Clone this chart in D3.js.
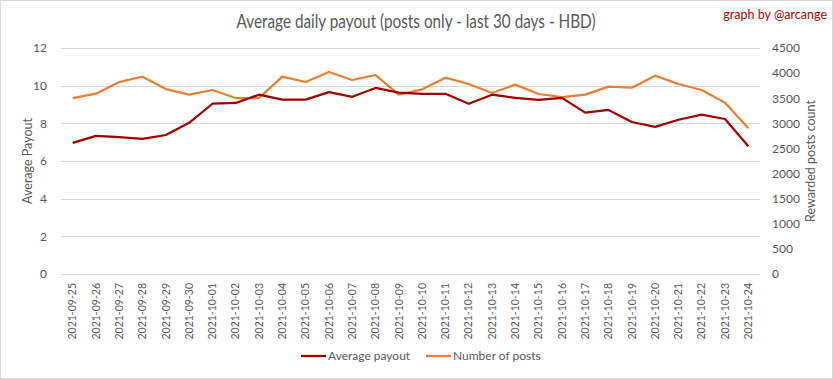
<!DOCTYPE html>
<html><head><meta charset="utf-8">
<script src="https://cdn.jsdelivr.net/npm/d3@7"></script>
<style>
body{margin:0;background:#fff;}
svg{display:block;font-family:Lato,"Liberation Sans",Arial,sans-serif;}
</style></head><body>
<svg id="c" width="833" height="379"></svg>
<script>
const dates = ["2021-09-25","2021-09-26","2021-09-27","2021-09-28","2021-09-29","2021-09-30","2021-10-01","2021-10-02","2021-10-03","2021-10-04","2021-10-05","2021-10-06","2021-10-07","2021-10-08","2021-10-09","2021-10-10","2021-10-11","2021-10-12","2021-10-13","2021-10-14","2021-10-15","2021-10-16","2021-10-17","2021-10-18","2021-10-19","2021-10-20","2021-10-21","2021-10-22","2021-10-23","2021-10-24"];
const avgPayout = [6.96,7.33,7.27,7.17,7.38,8.03,9.04,9.08,9.52,9.26,9.26,9.66,9.41,9.88,9.63,9.57,9.57,9.04,9.52,9.35,9.24,9.35,8.57,8.71,8.07,7.81,8.19,8.46,8.23,6.78];
const numPosts = [3504,3590,3823,3929,3683,3571,3664,3504,3504,3929,3823,4022,3863,3962,3571,3677,3910,3783,3604,3770,3584,3524,3571,3730,3710,3949,3783,3664,3411,2900];
const leftTicks = [0,2,4,6,8,10,12];
const rightTicks = [0,500,1000,1500,2000,2500,3000,3500,4000,4500];

const svg = d3.select("#c");
const W = 833, H = 379;
const m = {left:61, right:73, top:48, bottom:105};
const x0 = m.left, x1 = W - m.right, y0 = H - m.bottom, y1 = m.top;

svg.append("rect").attr("x",0.5).attr("y",0.5).attr("width",W-1).attr("height",H-1)
  .attr("fill","#fff").attr("stroke","#d9d9d9");

const x = d3.scaleBand().domain(dates).range([x0,x1]);
const yL = d3.scaleLinear().domain([0,12]).range([y0,y1]);
const yR = d3.scaleLinear().domain([0,4500]).range([y0,y1]);
const txt = "#595959";

// gridlines
svg.append("g").selectAll("line").data(leftTicks).join("line")
  .attr("x1",x0).attr("x2",x1).attr("y1",d=>Math.round(yL(d))+0.5).attr("y2",d=>Math.round(yL(d))+0.5)
  .attr("stroke","#d9d9d9").attr("stroke-width",1);

// left axis
const gl = svg.append("g").attr("transform",`translate(${x0},0)`)
  .call(d3.axisLeft(yL).tickValues(leftTicks).tickSize(0).tickPadding(14));
gl.select(".domain").remove();
gl.selectAll("text").attr("fill",txt).attr("font-size",12).attr("font-family","Lato");

// right axis
const gr = svg.append("g").attr("transform",`translate(${x1},0)`)
  .call(d3.axisRight(yR).tickValues(rightTicks).tickFormat(d3.format("d")).tickSize(0).tickPadding(12));
gr.select(".domain").remove();
gr.selectAll("text").attr("fill",txt).attr("font-size",12).attr("font-family","Lato");

// x axis
const gx = svg.append("g").attr("transform",`translate(0,${y0})`)
  .call(d3.axisBottom(x).tickSize(0).tickPadding(0));
gx.select(".domain").remove();
gx.selectAll("text").attr("fill",txt).attr("font-size",10.5).attr("font-family","Lato")
  .attr("transform","rotate(-90)").attr("text-anchor","end")
  .attr("x",-9).attr("y",0).attr("dy","0.35em");

// lines
const lineL = d3.line().x((d,i)=>x(dates[i])+x.bandwidth()/2).y(d=>yL(d));
const lineR = d3.line().x((d,i)=>x(dates[i])+x.bandwidth()/2).y(d=>yR(d));
svg.append("path").datum(numPosts).attr("d",lineR).attr("fill","none")
  .attr("stroke","#ed7d31").attr("stroke-width",2.25).attr("stroke-linejoin","round");
svg.append("path").datum(avgPayout).attr("d",lineL).attr("fill","none")
  .attr("stroke","#a00000").attr("stroke-width",2.25).attr("stroke-linejoin","round");

// title
svg.append("text").attr("x",416).attr("y",28).attr("text-anchor","middle")
  .attr("fill",txt).attr("font-size",19)
  .attr("textLength",359).attr("lengthAdjust","spacingAndGlyphs")
  .text("Average daily payout (posts only - last 30 days - HBD)");
svg.append("text").attr("x",827).attr("y",19).attr("text-anchor","end")
  .attr("fill","#c00000").attr("font-size",12.5)
  .text("graph by @arcange");

// axis titles
svg.append("text").attr("transform",`translate(32,${(y0+y1)/2}) rotate(-90)`)
  .attr("text-anchor","middle").attr("fill",txt).attr("font-size",12.5).text("Average Payout");
svg.append("text").attr("transform",`translate(815,${(y0+y1)/2}) rotate(-90)`)
  .attr("text-anchor","middle").attr("fill",txt).attr("font-size",12.5).text("Rewarded posts count");

// legend
const leg = svg.append("g");
const items = [{n:"Average payout",c:"#a00000",x:301},{n:"Number of posts",c:"#ed7d31",x:426}];
items.forEach(it=>{
  leg.append("line").attr("x1",it.x).attr("x2",it.x+25).attr("y1",356).attr("y2",356)
    .attr("stroke",it.c).attr("stroke-width",2.25);
  leg.append("text").attr("x",it.x+27).attr("y",360).attr("fill",txt).attr("font-size",12).text(it.n);
});
</script></body></html>
